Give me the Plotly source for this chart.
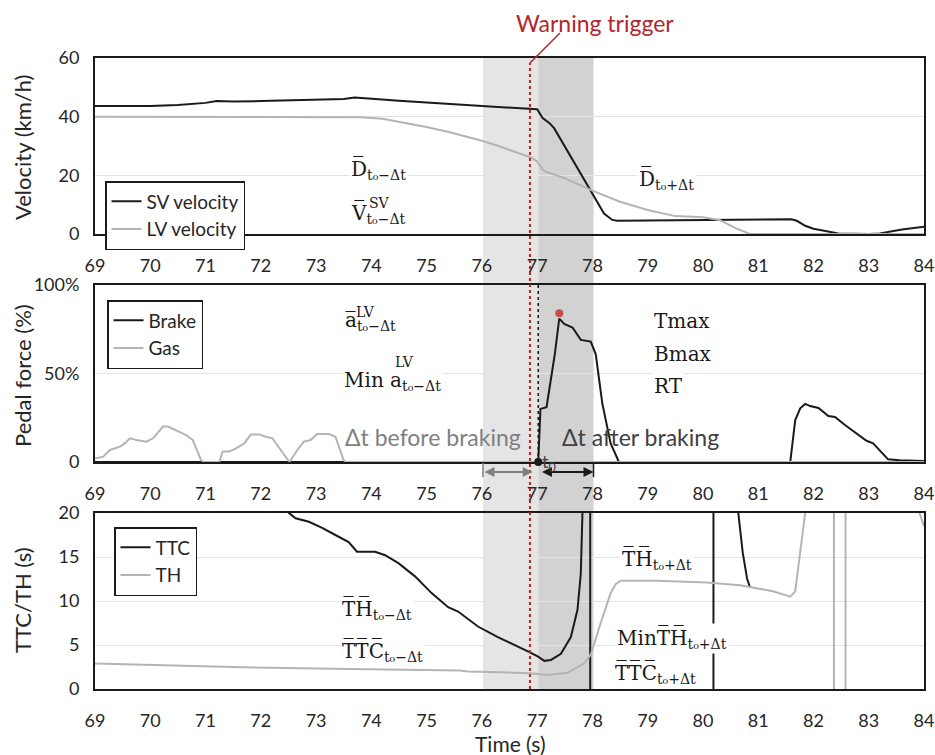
import plotly.graph_objects as go

# ---------------- data ----------------
# Panel 1: velocities (km/h)
t_sv = [69, 69.5, 70, 70.5, 71, 71.2, 71.5, 72, 72.5, 73, 73.5, 73.7, 74, 74.5, 75, 75.5, 76, 76.5,
        77.0, 77.1, 77.23, 77.31, 77.6, 77.8, 77.97, 78.21, 78.36, 78.45, 79, 80, 81, 81.6, 81.7,
        81.85, 82.0, 82.2, 82.45, 83.0, 83.2, 83.6, 84]
v_sv = [43.6, 43.5, 43.6, 44.0, 44.7, 45.3, 45.2, 45.3, 45.5, 45.7, 46.0, 46.5, 46.0, 45.4, 44.8, 44.2, 43.7, 43.1,
        42.5, 39.5, 37.7, 36.0, 26.8, 20.4, 15.0, 7.0, 4.8, 4.5, 4.6, 4.7, 4.8, 5.0, 4.5,
        2.8, 1.8, 1.2, 0.2, 0.0, 0.2, 1.5, 2.5]

t_lv = [69, 70, 71, 72, 73, 73.8, 74.2, 74.6, 75, 75.4, 75.75, 76, 76.3, 76.6, 76.9, 77.0, 77.1, 77.15,
        77.5, 78, 78.5, 79, 79.5, 80, 80.3, 80.6, 80.85, 81.5, 82, 83, 84]
v_lv = [40, 40, 40, 40, 40, 39.8, 39.3, 38.0, 36.5, 34.8, 33.2, 31.8, 30.0, 28.0, 26.0, 24.7, 22.0, 21.3,
        19.0, 14.8, 11.0, 8.2, 6.1, 5.7, 4.8, 1.9, 0, 0, 0, 0, 0]

# Panel 2: pedal force (%)
t_brake = [69, 77.02, 77.06, 77.17, 77.32, 77.4, 77.49, 77.64, 77.79, 77.97, 78.06, 78.18, 78.33, 78.48,
           81.58, 81.67, 81.76, 81.85, 81.94, 82.09, 82.27, 82.39, 82.57, 82.78, 82.96, 83.08, 83.23,
           83.35, 83.56, 84]
brake = [0, 0, 30, 31, 61, 81, 78, 76, 69, 68, 61, 33, 10.5, 0,
         0, 23.7, 30.3, 32.8, 31.6, 30.5, 26.0, 25.4, 20.9, 16.2, 12.0, 10.5, 5.8,
         1.5, 1.0, 0.5]

t_gas = [69, 69.15, 69.27, 69.45, 69.54, 69.63, 69.75, 69.93, 70.05, 70.23, 70.32, 70.47, 70.65, 70.77,
         70.92, 70.97, 71.25, 71.31, 71.43, 71.55, 71.7, 71.82, 71.97, 72.09, 72.21, 72.36, 72.52,
         72.66, 72.78, 72.9, 73.02, 73.23, 73.35, 73.5, 73.53, 84]
gas = [2, 3, 6.8, 8.7, 10.5, 13.4, 12.4, 11.5, 13.4, 20, 20, 18, 15.2, 12.4,
       1, 0, 0, 5.9, 5.9, 7.7, 10.5, 15.6, 15.6, 14.3, 13.4, 6.8, 0,
       6.8, 11.5, 12.4, 15.8, 15.8, 14.3, 1, 0, 0]

peak_t = [77.4]
peak_brake = [84]

# Panel 3: TTC / TH (s)  (values outside 0-20 are off-scale)
t_ttc = [69, 72.0, 72.51, 72.63, 72.87, 73.11, 73.35, 73.59, 73.74, 73.83, 74.07, 74.25, 74.49, 74.79,
         75.09, 75.39, 75.57, 75.93, 76.29, 76.86, 77.01, 77.13, 77.25, 77.43, 77.61, 77.73, 77.79,
         77.82, 77.9, 77.96, 77.961, 80.19, 80.191, 80.5, 80.64, 80.72, 80.8, 80.85]
ttc = [40, 24, 20, 19.4, 19.0, 18.3, 17.5, 16.7, 15.6, 15.6, 15.6, 15.2, 14.3, 12.8,
       10.9, 9.3, 8.8, 7.1, 5.9, 4.2, 3.7, 3.2, 3.3, 4.0, 5.9, 9.0, 13.1,
       20, 60, 200, -200, -200, 200, 40, 20, 15.5, 12.5, 11.6]

t_th = [69, 71.49, 73.29, 75.6, 75.75, 76.86, 77.19, 77.55, 77.85, 77.97, 78.15, 78.33, 78.42, 78.51,
        79.17, 80.07, 80.67, 81.27, 81.58, 81.67, 81.85, 82.0, 82.37, 82.371, 82.58, 82.581,
        83.8, 83.92, 84]
th = [2.9, 2.5, 2.3, 2.1, 2.0, 1.8, 1.6, 1.85, 2.9, 3.9, 7.5, 10.9, 11.9, 12.3,
      12.3, 12.1, 11.8, 11.1, 10.5, 11.1, 20, 40, 100, -100, -100, 100,
      25, 20, 18.5]

# events
t_warning = 76.87
t0 = 77.02
dt = 1.0

x_ticks = list(range(69, 85))

# ---------------- style ----------------
BLACK = "#1a1a1a"
GREY = "#b4b4b4"
RED = "#b3262b"
SANS = "Lato"
SERIF = "DejaVu Serif"
TXT = "#262626"

PX_L, PX_R, PX_T, PX_B = 95, 924, 58, 689
def py(p):
    return (PX_B - p) / (PX_B - PX_T)
def tx(p):
    return 69 + (p - PX_L) / ((PX_R - PX_L) / 15)

fig = go.Figure()
fig.add_trace(go.Scatter(x=t_sv, y=v_sv, mode="lines", name="SV velocity",
                         line=dict(color=BLACK, width=2), xaxis="x", yaxis="y", legend="legend"))
fig.add_trace(go.Scatter(x=t_lv, y=v_lv, mode="lines", name="LV velocity",
                         line=dict(color=GREY, width=2), xaxis="x", yaxis="y", legend="legend"))
fig.add_trace(go.Scatter(x=t_brake, y=brake, mode="lines", name="Brake",
                         line=dict(color=BLACK, width=2), xaxis="x2", yaxis="y2", legend="legend2"))
fig.add_trace(go.Scatter(x=t_gas, y=gas, mode="lines", name="Gas",
                         line=dict(color=GREY, width=2), xaxis="x2", yaxis="y2", legend="legend2"))
fig.add_trace(go.Scatter(x=peak_t, y=peak_brake, mode="markers", showlegend=False,
                         marker=dict(color="#c0504d", size=8), xaxis="x2", yaxis="y2", cliponaxis=False))
fig.add_trace(go.Scatter(x=[t0], y=[0], mode="markers", showlegend=False,
                         marker=dict(color=BLACK, size=8), xaxis="x2", yaxis="y2", cliponaxis=False))
fig.add_trace(go.Scatter(x=t_ttc, y=ttc, mode="lines", name="TTC",
                         line=dict(color=BLACK, width=2), xaxis="x3", yaxis="y3", legend="legend3"))
fig.add_trace(go.Scatter(x=t_th, y=th, mode="lines", name="TH",
                         line=dict(color=GREY, width=2), xaxis="x3", yaxis="y3", legend="legend3"))

xcommon = dict(range=[69, 84], tickvals=x_ticks, showgrid=False, zeroline=False, showline=True,
               mirror=True, linecolor=BLACK, linewidth=2, ticks="", ticklabelstandoff=14,
               ticklabeloverflow="allow", automargin=False,
               tickfont=dict(family=SANS, size=18, color=TXT))
ycommon = dict(showgrid=True, gridcolor="#e4e4e4", gridwidth=1, zeroline=False, showline=True,
               mirror=True, linecolor=BLACK, linewidth=2, ticks="", ticklabelstandoff=10,
               automargin=False,
               tickfont=dict(family=SANS, size=18, color=TXT))

d1 = [py(234), 1.0]
d2 = [py(462), py(285)]
d3 = [0.0, py(513)]

legend_common = dict(bgcolor="white", bordercolor=BLACK, borderwidth=1.5,
                     font=dict(family=SANS, size=19, color=TXT), xref="paper", yref="paper",
                     xanchor="left", yanchor="top", itemwidth=30, tracegroupgap=0)

fig.update_layout(
    width=935, height=755,
    margin=dict(l=PX_L, r=935 - PX_R, t=PX_T, b=755 - PX_B, autoexpand=False),
    paper_bgcolor="white", plot_bgcolor="rgba(0,0,0,0)",
    showlegend=True,
    xaxis=dict(xcommon, anchor="y"),
    xaxis2=dict(xcommon, anchor="y2"),
    xaxis3=dict(xcommon, anchor="y3"),
    yaxis=dict(ycommon, domain=d1, range=[0, 60], tickvals=[0, 20, 40, 60], anchor="x"),
    yaxis2=dict(ycommon, domain=d2, range=[0, 100], tickvals=[0, 50, 100],
                ticktext=["0", "50%", "100%"], anchor="x2"),
    yaxis3=dict(ycommon, domain=d3, range=[0, 20], tickvals=[0, 5, 10, 15, 20], anchor="x3"),
    legend=dict(legend_common, x=(105 - PX_L) / (PX_R - PX_L), y=py(181)),
    legend2=dict(legend_common, x=(107 - PX_L) / (PX_R - PX_L), y=py(300)),
    legend3=dict(legend_common, x=(114 - PX_L) / (PX_R - PX_L), y=py(527)),
)

shapes = [
    dict(type="rect", xref="x", yref="paper", x0=t0 - dt, x1=t0, y0=0, y1=1,
         fillcolor="#e5e5e5", line=dict(width=0), layer="below"),
    dict(type="rect", xref="x", yref="paper", x0=t0, x1=t0 + dt, y0=0, y1=1,
         fillcolor="#d2d2d2", line=dict(width=0), layer="below"),
    dict(type="line", xref="x", yref="paper", x0=t_warning, x1=t_warning, y0=0, y1=py(63),
         line=dict(color=RED, width=2, dash="dot"), layer="above"),
    dict(type="line", xref="x", yref="paper", x0=tx(560), x1=t_warning, y0=py(33), y1=py(63),
         line=dict(color=RED, width=1.5), layer="above"),
    dict(type="line", xref="x2", yref="y2 domain", x0=t0, x1=t0, y0=0, y1=1,
         line=dict(color=BLACK, width=1.5, dash="dot"), layer="above"),
    dict(type="line", xref="x", yref="paper", x0=t0 - dt, x1=t0 - dt, y0=py(477), y1=py(463),
         line=dict(color="#808080", width=1.5)),
    dict(type="line", xref="x", yref="paper", x0=t0 + dt, x1=t0 + dt, y0=py(477), y1=py(463),
         line=dict(color=BLACK, width=1.5)),
]
fig.update_layout(shapes=shapes)

ann = []
# arrows under the pedal panel
ann.append(dict(x=t0 - 0.1, y=py(472), xref="x", yref="paper", ax=t0 - dt, ay=0, axref="x", ayref="pixel",
                text="", showarrow=True, arrowhead=2, arrowside="end+start", arrowsize=1,
                arrowwidth=2, arrowcolor="#808080", standoff=0, startstandoff=0))
ann.append(dict(x=t0 + dt, y=py(472), xref="x", yref="paper", ax=t0 + 0.04, ay=0, axref="x", ayref="pixel",
                text="", showarrow=True, arrowhead=2, arrowside="end+start", arrowsize=1,
                arrowwidth=2, arrowcolor=BLACK, standoff=0, startstandoff=0))

ann.append(dict(x=tx(595), y=py(23), xref="x", yref="paper", text="Warning trigger", showarrow=False,
                font=dict(family=SANS, size=23, color=RED), xanchor="center", yanchor="middle"))

# axis titles
def ytitle(text, ypx):
    return dict(x=(22 - PX_L) / (PX_R - PX_L), y=py(ypx), xref="paper", yref="paper", text=text,
                textangle=-90, showarrow=False, font=dict(family=SANS, size=22, color=TXT),
                xanchor="center", yanchor="middle")
ann += [ytitle("Velocity (km/h)", 147), ytitle("Pedal force (%)", 376), ytitle("TTC/TH (s)", 600)]
ann.append(dict(x=tx(510), y=py(743), xref="x", yref="paper", text="Time (s)", showarrow=False,
                font=dict(family=SANS, size=21, color=TXT), xanchor="center", yanchor="middle"))

OL = "\u0305"
def math(text, xpx, ypx, size=20, bg=True):
    return dict(x=tx(xpx), y=py(ypx), xref="x", yref="paper", text=text, showarrow=False,
                font=dict(family=SERIF, size=size, color=BLACK), xanchor="left", yanchor="middle",
                bgcolor="white" if bg else None, borderpad=1)

SUBM = "<sub>t\u2080\u2212\u0394t</sub>"
SUBP = "<sub>t\u2080+\u0394t</sub>"
ann += [
    math("D" + OL + SUBM, 349, 169),
    math("V" + OL + SUBM, 349, 213),
    math("SV", 367, 203, size=14, bg=False),
    math("D" + OL + SUBP, 637, 179),
    math("a" + OL + SUBM, 343, 321),
    math("LV", 354, 312, size=14, bg=False),
    math("Min a" + SUBM, 342, 381),
    math("LV", 393, 362, size=14, bg=False),
    math("Tmax", 652, 321),
    math("Bmax", 652, 354),
    math("RT", 652, 386),
    math("T" + OL + "H" + OL + SUBM, 340, 609),
    math("T" + OL + "T" + OL + "C" + OL + SUBM, 340, 651),
    math("T" + OL + "H" + OL + SUBP, 620, 559),
    math("MinT" + OL + "H" + OL + SUBP, 615, 638),
    math("T" + OL + "T" + OL + "C" + OL + SUBP, 613, 673),
]
ann.append(dict(x=tx(343), y=py(437), xref="x", yref="paper", text="\u0394t before braking",
                showarrow=False, font=dict(family=SANS, size=23, color="#808080"),
                xanchor="left", yanchor="middle"))
ann.append(dict(x=tx(560), y=py(437), xref="x", yref="paper", text="\u0394t after braking",
                showarrow=False, font=dict(family=SANS, size=23, color="#404040"),
                xanchor="left", yanchor="middle"))
ann.append(dict(x=t0 + 0.04, y=0, xref="x2", yref="y2", text="t<sub>0</sub>",
                showarrow=False, font=dict(family=SANS, size=18, color="#404040"),
                xanchor="left", yanchor="middle"))

fig.update_layout(annotations=ann)

fig.write_html("out.html", config={"displayModeBar": False},
               post_script="document.body.style.margin='0';document.body.style.overflow='hidden';"
                           "document.documentElement.style.overflow='hidden';")
